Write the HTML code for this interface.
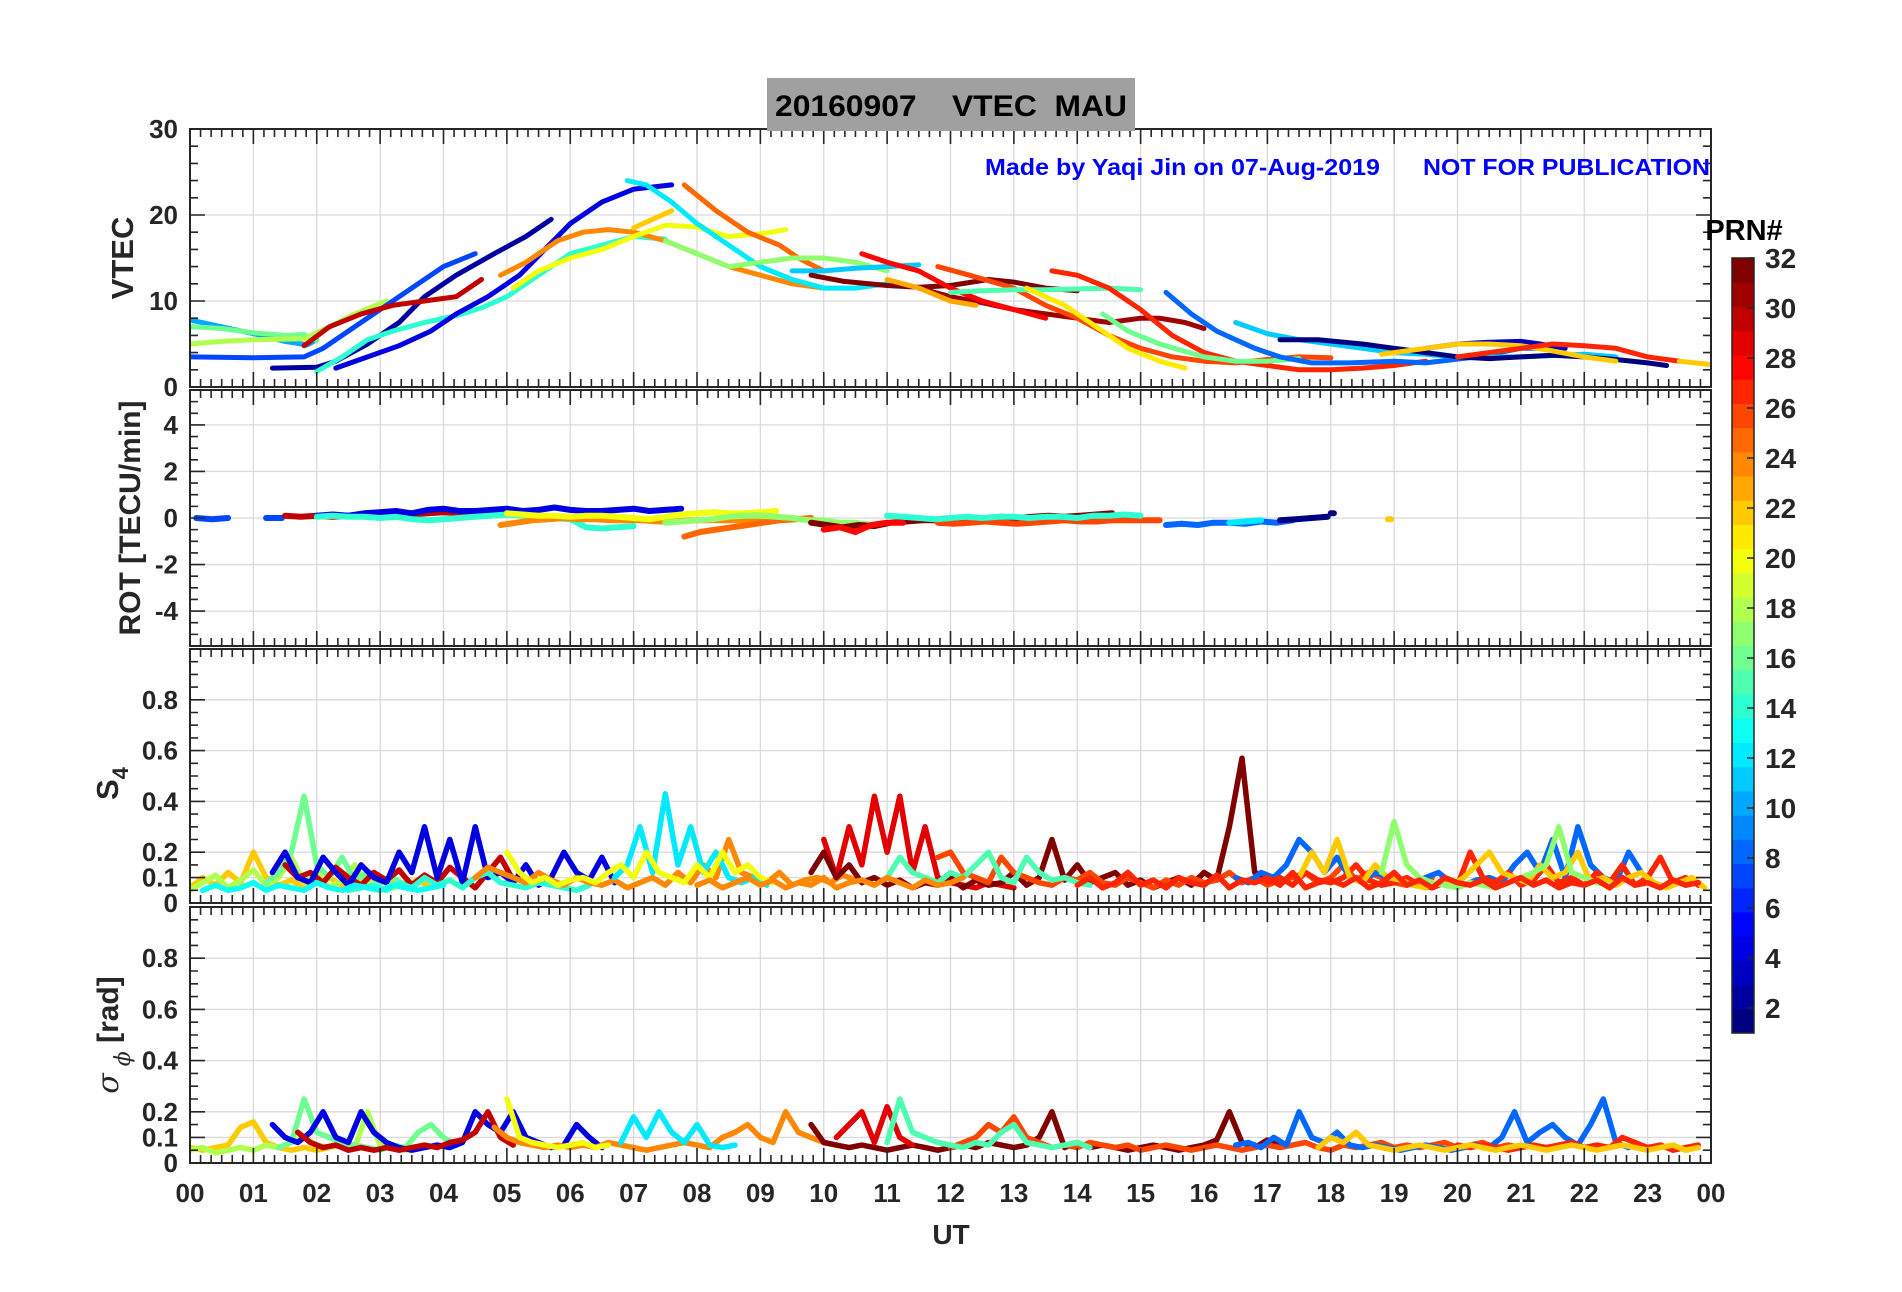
<!DOCTYPE html>
<html><head><meta charset="utf-8"><title>VTEC MAU 20160907</title>
<style>
html,body{margin:0;padding:0;background:#fff;}
svg{display:block;font-family:"Liberation Sans",Arial,sans-serif;}
</style></head>
<body>
<svg id="fig" width="1902" height="1292" viewBox="0 0 1902 1292" xmlns="http://www.w3.org/2000/svg">
<rect x="0" y="0" width="1902" height="1292" fill="#fff"/>
<g id="grids"></g>
<g id="data"></g>
<g id="axes"></g>
<rect x="767" y="78" width="368" height="53" fill="#a0a0a0"/>
<text x="951" y="116" text-anchor="middle" font-size="30" font-weight="bold" fill="#000" textLength="352" lengthAdjust="spacingAndGlyphs" xml:space="preserve">20160907    VTEC  MAU</text>
<text x="985" y="175" font-size="23" font-weight="bold" fill="#0000ff" textLength="395" lengthAdjust="spacingAndGlyphs">Made by Yaqi Jin on 07-Aug-2019</text>
<text x="1423" y="175" font-size="23" font-weight="bold" fill="#0000ff" textLength="287" lengthAdjust="spacingAndGlyphs">NOT FOR PUBLICATION</text>
<text transform="translate(133,258) rotate(-90)" text-anchor="middle" font-size="31" font-weight="bold" fill="#262626">VTEC</text>
<text transform="translate(140,518) rotate(-90)" text-anchor="middle" font-size="30" font-weight="bold" fill="#262626">ROT [TECU/min]</text>
<text transform="translate(118,800) rotate(-90)" font-size="31" font-weight="bold" fill="#262626">S<tspan font-size="22" dy="10">4</tspan></text>
<text transform="translate(118,1035) rotate(-90)" text-anchor="middle" font-size="30" font-weight="bold" fill="#262626" font-family="'DejaVu Serif',serif"><tspan font-style="italic" font-weight="normal">σ</tspan><tspan font-size="22" dy="12" font-style="italic" font-weight="normal"> ϕ</tspan><tspan dy="-12" font-family="Liberation Sans,sans-serif"> [rad]</tspan></text>
<text x="951" y="1244" text-anchor="middle" font-size="28" font-weight="bold" fill="#262626">UT</text>
<text x="1744" y="240" text-anchor="middle" font-size="29" font-weight="bold" fill="#000">PRN#</text>
<g id="cbar"></g>
</svg>
<script>
// ---------------- data ----------------
const hourTicks = ["00","01","02","03","04","05","06","07","08","09","10","11","12","13","14","15","16","17","18","19","20","21","22","23","00"];
const vtecTickLabels = [0,10,20,30];
const rotTickLabels = [-4,-2,0,2,4];
const scintTickLabels = [0,0.1,0.2,0.4,0.6,0.8];
const cbarTickLabels = [2,4,6,8,10,12,14,16,18,20,22,24,26,28,30,32];

const vtecPrn = [10,16,18,7,2,30,14,4,24,20,12,22,25,17,11,32,31,28,26,15,23,21,27,16,8,11,1,3,22,27,22];
const vtecTracks = [
 [[0,7.8],[0.5,7],[1,6.2],[1.5,5.3],[1.85,4.9],[2.0,5.5]],
 [[0,7],[0.5,6.8],[1,6.3],[1.5,6],[1.8,6.1],[2,5.4]],
 [[0,5],[0.5,5.3],[1,5.5],[1.8,5.6],[2.2,7],[2.6,8.5],[3.1,10]],
 [[0,3.5],[1,3.4],[1.8,3.5],[2.1,4.5],[2.5,6.5],[3,9],[3.5,11.5],[4,14],[4.5,15.5]],
 [[1.3,2.2],[2.0,2.3],[2.3,3],[2.8,5],[3.3,7.5],[3.7,10.5],[4.2,13],[4.8,15.5],[5.3,17.5],[5.7,19.5]],
 [[1.8,4.8],[2.2,7],[2.7,8.5],[3.2,9.5],[3.8,10.1],[4.2,10.5],[4.6,12.5]],
 [[2.0,1.8],[2.4,3.5],[2.8,5.5],[3.2,6.5],[3.7,7.5],[4.2,8.3],[4.6,9.2],[5,10.5],[5.5,13],[6,15.5],[6.5,16.5],[7,17.5],[7.5,17.2]],
 [[2.3,2.2],[2.8,3.5],[3.3,4.8],[3.8,6.5],[4.2,8.5],[4.7,10.5],[5.2,13],[5.6,16],[6,19],[6.5,21.5],[7,23],[7.6,23.5]],
 [[4.9,13],[5.3,14.5],[5.8,17],[6.2,18],[6.6,18.3],[7,18],[7.5,17],[8,15.5],[8.5,14],[9,13],[9.5,12],[10,11.5]],
 [[5.1,11.5],[5.5,13.5],[6,15],[6.5,16],[7,17.5],[7.5,18.8],[8,18.6],[8.5,17.5],[9,17.8],[9.4,18.3]],
 [[6.9,24],[7.2,23.5],[7.6,21.5],[8,19],[8.5,16.5],[9,14],[9.5,12.5],[10,11.5],[10.5,11.5],[11,12]],
 [[7,18.5],[7.3,19.5],[7.6,20.5]],
 [[7.8,23.5],[8.3,20.5],[8.8,18],[9.3,16.5],[9.6,15],[10,13.5]],
 [[7.5,17],[8,15.5],[8.5,14],[9,14.5],[9.5,15],[10,15],[10.5,14.5],[11,13.5]],
 [[9.5,13.5],[10,13.5],[10.5,13.8],[11,14],[11.5,14.2]],
 [[9.8,13],[10.3,12.3],[11,11.8],[11.5,11.6],[12,11.8],[12.6,12.5],[13,12.2],[13.5,11.5],[14,11.2]],
 [[11.5,11.5],[12,10.5],[12.5,9.8],[13,9],[13.5,8.5],[14,8],[14.5,7.5],[15,8],[15.3,8],[15.7,7.5],[16,6.8]],
 [[10.6,15.5],[11,14.5],[11.5,13.5],[12,11.5],[12.5,10],[13,9],[13.5,8]],
 [[11.8,14],[12.3,13],[13,11.5],[13.5,9.5],[14,8],[14.5,6],[15,4.5],[15.5,3.5],[16,3],[16.5,2.8],[17,3.2],[17.5,3.5],[18,3.4]],
 [[12,11],[12.5,11.2],[13,11.3],[13.5,11.3],[14,11.4],[14.5,11.5],[15,11.3]],
 [[11,12.5],[11.5,11.5],[12,10],[12.4,9.5]],
 [[13.2,11.5],[13.8,9.5],[14.3,7],[14.8,4.5],[15.3,3],[15.7,2.2]],
 [[13.6,13.5],[14,13],[14.5,11.5],[15,9],[15.5,6],[16,4],[16.5,3],[17,2.5],[17.5,2],[18,2],[18.5,2.2],[19,2.5],[19.5,3]],
 [[14.4,8.5],[14.8,6.5],[15.3,5],[16,3.5],[16.5,3],[17,3],[17.5,3.3]],
 [[15.4,11],[15.8,8.5],[16.2,6.5],[16.8,4.5],[17.2,3.5],[17.7,2.8],[18.3,2.8],[19,3],[19.5,2.8],[20.3,3.5],[21,4.5],[21.5,4.5]],
 [[16.5,7.5],[17,6.2],[17.5,5.5],[18,5],[18.5,4.5],[19,4],[19.5,3.8],[20,3.5],[21,3.5],[22,3.8],[22.5,3.5]],
 [[17.2,5.5],[17.8,5.5],[18.5,5],[19,4.5],[19.5,4],[20,3.5],[20.5,3.3],[21,3.5],[21.5,3.7],[22,3.5],[22.5,3.2],[23,2.8],[23.3,2.5]],
 [[19.5,4.5],[20,5],[20.5,5.2],[21,5.3],[21.3,5],[21.7,4.5]],
 [[18.8,3.8],[19.5,4.5],[20,5],[20.5,5],[21,4.8],[21.5,4.2],[22,3.5],[22.5,3.0]],
 [[20,3.5],[20.5,4],[21,4.5],[21.5,5],[22,4.8],[22.5,4.5],[23,3.5],[23.5,3]],
 [[23.5,3],[24,2.6]]
];

const rotStep = 0.25;
const rotPrn = [7,7,30,4,14,24,25,20,17,32,28,26,14,8,12,1,1,22];
const rotStart = [0.1,1.2,1.5,2,2,4.9,7.8,5,7.5,9.8,10,11.8,11,15.4,16.4,17.2,18,18.9];
const rotValues = [
 [0,-0.05,0],
 [0,0],
 [0.1,0.05,0.1,0.05,0.1,0.15,0.1,0.2,0.15,0.2,0.25,0.2,0.3],
 [0.1,0.15,0.1,0.2,0.25,0.3,0.2,0.35,0.4,0.3,0.3,0.35,0.4,0.3,0.35,0.45,0.35,0.3,0.3,0.35,0.4,0.3,0.35,0.4],
 [0.05,0.1,0.05,0.05,0,0.05,-0.05,-0.1,-0.05,0,0.05,0.1,0.15,0.1,0.05,0,-0.05,-0.4,-0.45,-0.4,-0.35],
 [-0.3,-0.2,-0.1,-0.05,0,-0.05,-0.05,-0.1,-0.1,-0.1,-0.15,-0.15,-0.1,-0.1,-0.1,-0.1,-0.05,-0.05,0],
 [-0.8,-0.6,-0.5,-0.4,-0.3,-0.2,-0.1,-0.05,0],
 [0.2,0.15,0.1,0.1,0.05,0.1,0.1,0.05,0,-0.05,0.05,0.15,0.2,0.25,0.2,0.2,0.25,0.3],
 [-0.2,-0.15,-0.1,-0.05,0.05,0.1,0.1,0.05,0,-0.1,-0.1,-0.2,-0.2,-0.3,-0.2],
 [-0.2,-0.3,-0.4,-0.3,-0.35,-0.2,-0.15,-0.1,-0.1,-0.05,-0.05,0,0.05,0,0.05,0.1,0.05,0.1,0.15,0.2],
 [-0.5,-0.4,-0.6,-0.3,-0.2,-0.2],
 [-0.2,-0.25,-0.2,-0.15,-0.2,-0.25,-0.2,-0.15,-0.1,-0.15,-0.15,-0.1,-0.1,-0.1,-0.1],
 [0.1,0.05,0,-0.05,0,0.05,0,0.05,0.05,0,0.05,0.05,0,0.1,0.1,0.15,0.1],
 [-0.3,-0.25,-0.3,-0.2,-0.2,-0.25,-0.15,-0.2,-0.1],
 [-0.2,-0.15,-0.1],
 [-0.1,-0.05,0,0.05],
 [0.2],
 [-0.05]
];

const scintStep = 0.2;
const s4Prn = [22,18,16,30,4,14,24,12,20,29,32,26,15,8,27,22,17,24,27,13];
const s4Start = [0,0,1.2,1.5,1.3,2.5,4.5,6.7,5,10,9.8,11.8,11,16.5,17,17.5,18.8,8,14,0.2];
const s4Values = [
 [0.06,0.1,0.07,0.12,0.08,0.2,0.1,0.07,0.09,0.06,0.08,0.1,0.07,0.09,0.06,0.1,0.08,0.07,0.09,0.06],
 [0.05,0.08,0.11,0.06,0.09,0.13,0.07,0.1,0.18,0.08,0.12,0.06,0.09,0.15,0.07,0.1,0.06,0.08],
 [0.08,0.12,0.2,0.42,0.15,0.1,0.18,0.09,0.12,0.08,0.1,0.07],
 [0.15,0.1,0.12,0.08,0.14,0.1,0.07,0.12,0.09,0.13,0.07,0.11,0.08,0.14,0.1,0.06,0.12,0.18,0.09],
 [0.12,0.2,0.1,0.08,0.18,0.12,0.07,0.15,0.1,0.08,0.2,0.12,0.3,0.1,0.25,0.08,0.3,0.1,0.12,0.08,0.15,0.07,0.1,0.2,0.12,0.09,0.18,0.08],
 [0.05,0.06,0.07,0.05,0.08,0.06,0.1,0.07,0.09,0.06,0.1,0.12,0.08,0.07,0.06,0.08,0.07,0.06,0.05,0.07],
 [0.1,0.14,0.12,0.1,0.08,0.12,0.09,0.07,0.1,0.08,0.07,0.09,0.06,0.08,0.1,0.07,0.12,0.08,0.15,0.1,0.25,0.12,0.1,0.08,0.12,0.07,0.09,0.1,0.08,0.11,0.09],
 [0.1,0.15,0.3,0.12,0.43,0.15,0.3,0.12,0.2,0.1,0.08,0.1,0.07],
 [0.2,0.12,0.08,0.1,0.07,0.09,0.1,0.08,0.12,0.15,0.1,0.2,0.12,0.1,0.08,0.15,0.1,0.2,0.12,0.15,0.1,0.08],
 [0.25,0.1,0.3,0.15,0.42,0.2,0.42,0.12,0.3,0.1,0.08,0.07,0.06,0.08,0.07,0.06],
 [0.12,0.2,0.1,0.15,0.08,0.1,0.07,0.09,0.06,0.08,0.07,0.1,0.06,0.09,0.07,0.08,0.12,0.07,0.1,0.25,0.09,0.15,0.08,0.1,0.12,0.07,0.09,0.06,0.08,0.1,0.07,0.12,0.09,0.3,0.57,0.12,0.1,0.08],
 [0.18,0.2,0.12,0.1,0.08,0.18,0.12,0.1,0.08,0.07,0.1,0.09,0.12,0.08,0.07,0.1,0.08,0.06,0.09,0.07,0.1,0.08,0.09,0.12,0.08,0.1,0.07,0.09,0.1,0.12,0.08,0.1,0.15,0.09,0.12,0.1,0.08,0.07,0.09,0.1],
 [0.1,0.18,0.12,0.1,0.08,0.12,0.1,0.15,0.2,0.1,0.08,0.18,0.12,0.09,0.1,0.08,0.07],
 [0.1,0.08,0.12,0.1,0.15,0.25,0.2,0.12,0.18,0.1,0.08,0.12,0.1,0.09,0.08,0.1,0.12,0.08,0.07,0.09,0.1,0.08,0.15,0.2,0.12,0.25,0.1,0.3,0.15,0.1,0.08,0.2,0.12],
 [0.08,0.1,0.07,0.12,0.09,0.08,0.1,0.15,0.09,0.07,0.08,0.1,0.07,0.06,0.08,0.07,0.2,0.1,0.08,0.12,0.07,0.09,0.15,0.08,0.1,0.07,0.12,0.08,0.15,0.07,0.1,0.18,0.08,0.1,0.07],
 [0.1,0.2,0.12,0.25,0.1,0.08,0.15,0.1,0.09,0.07,0.06,0.08,0.07,0.1,0.15,0.2,0.12,0.1,0.08,0.15,0.1,0.12,0.2,0.08,0.1,0.07,0.1,0.12,0.08,0.06,0.08,0.1,0.06],
 [0.12,0.32,0.15,0.1,0.08,0.07,0.06,0.08,0.07,0.06,0.08,0.1,0.12,0.15,0.3,0.12,0.1,0.08,0.07],
 [0.07,0.09,0.06,0.08,0.1,0.07,0.09,0.06,0.08,0.07,0.1,0.06,0.08,0.09,0.07,0.1,0.08,0.06,0.09,0.07,0.08,0.1],
 [0.07,0.1,0.06,0.08,0.12,0.07,0.09,0.06,0.1,0.08,0.07,0.11,0.06,0.09,0.08,0.1,0.07,0.12,0.06,0.08,0.09,0.07,0.1,0.06,0.08,0.12,0.07,0.09,0.06,0.1,0.08,0.07,0.09,0.06,0.08,0.1,0.07,0.09,0.06,0.08,0.07,0.09,0.06,0.1,0.07,0.08,0.06,0.09,0.07,0.08],
 [0.05,0.07,0.05,0.06,0.08,0.05,0.07,0.06,0.05,0.08,0.06,0.05,0.07,0.06,0.05,0.07,0.06,0.05,0.06,0.07]
];

const sigPrn = [22,18,16,4,30,24,12,20,32,29,26,15,8,27,22];
const sigStart = [0,0,1.4,1.3,1.7,4.8,6.8,5,9.8,10.2,12,11,16.5,20,17.8];
const sigValues = [
 [0.06,0.05,0.06,0.07,0.14,0.16,0.08,0.06,0.05,0.06,0.05,0.06,0.07,0.06],
 [0.05,0.06,0.04,0.05,0.06,0.05,0.07,0.06,0.08,0.1,0.07,0.06,0.08,0.06,0.2,0.07,0.06,0.05],
 [0.06,0.08,0.25,0.12,0.1,0.08,0.07,0.06,0.05,0.07,0.06,0.12,0.15,0.1,0.07],
 [0.15,0.1,0.08,0.12,0.2,0.1,0.08,0.2,0.12,0.08,0.06,0.05,0.06,0.07,0.06,0.08,0.2,0.15,0.12,0.2,0.1,0.08,0.06,0.07,0.15,0.1,0.06],
 [0.12,0.08,0.06,0.07,0.05,0.06,0.05,0.06,0.05,0.06,0.07,0.06,0.08,0.09,0.12,0.2,0.1,0.07],
 [0.14,0.1,0.08,0.07,0.06,0.07,0.06,0.07,0.06,0.08,0.07,0.06,0.05,0.06,0.07,0.08,0.07,0.06,0.1,0.12,0.15,0.1,0.08,0.2,0.12,0.1,0.08,0.07],
 [0.08,0.18,0.1,0.2,0.12,0.08,0.15,0.07,0.06,0.07],
 [0.25,0.1,0.08,0.07,0.06,0.07,0.08,0.06,0.07],
 [0.15,0.08,0.07,0.06,0.07,0.06,0.05,0.06,0.07,0.06,0.05,0.06,0.07,0.06,0.08,0.07,0.06,0.07,0.1,0.2,0.06,0.08,0.06,0.07,0.06,0.05,0.06,0.07,0.06,0.05,0.06,0.07,0.09,0.2,0.08,0.06,0.09,0.07],
 [0.1,0.15,0.2,0.08,0.22,0.1,0.07],
 [0.06,0.08,0.1,0.15,0.12,0.18,0.1,0.08,0.06,0.07,0.06,0.08,0.07,0.06,0.07,0.05,0.06,0.07,0.06,0.05,0.06,0.07,0.06,0.05,0.06,0.07,0.06,0.07,0.08,0.06,0.05,0.07,0.06,0.07,0.08,0.06,0.07,0.06,0.07,0.08,0.06,0.07,0.08,0.06,0.07,0.06],
 [0.08,0.25,0.12,0.1,0.08,0.07,0.06,0.08,0.07,0.12,0.15,0.08,0.07,0.06,0.07,0.08,0.06],
 [0.07,0.08,0.06,0.1,0.07,0.2,0.1,0.08,0.12,0.07,0.06,0.07,0.06,0.05,0.06,0.07,0.06,0.05,0.06,0.07,0.06,0.1,0.2,0.08,0.12,0.15,0.1,0.07,0.15,0.25,0.08,0.06],
 [0.07,0.06,0.07,0.06,0.05,0.06,0.07,0.06,0.07,0.08,0.06,0.07,0.06,0.1,0.08,0.06,0.07,0.05,0.06,0.07],
 [0.06,0.1,0.08,0.12,0.07,0.06,0.05,0.06,0.07,0.06,0.05,0.06,0.07,0.06,0.05,0.06,0.07,0.06,0.05,0.06,0.07,0.06,0.05,0.06,0.07,0.06,0.05,0.06,0.07,0.05,0.06]
];

// ---------------- rendering ----------------
const NS = "http://www.w3.org/2000/svg";
const L = 190, R = 1711;
const panels = [
 {name:"vtec", top:129, bot:387, min:0, max:30, major:[0,10,20,30], minorStep:2, labels:vtecTickLabels},
 {name:"rot", top:390, bot:646, min:-5.5, max:5.5, major:[-4,-2,0,2,4], minorStep:0.5, labels:rotTickLabels},
 {name:"s4", top:649, bot:903, min:0, max:1, major:[0,0.1,0.2,0.4,0.6,0.8], minorStep:0.05, labels:scintTickLabels},
 {name:"sigma", top:907, bot:1163, min:0, max:1, major:[0,0.1,0.2,0.4,0.6,0.8], minorStep:0.05, labels:scintTickLabels}
];
function xs(h){ return L + (R-L)*h/24; }
function ys(p,v){ return p.bot - (p.bot-p.top)*(v-p.min)/(p.max-p.min); }
function jet(prn){
  const t=(prn-1)/31;
  const c=v=>Math.round(255*Math.max(0,Math.min(1,v)));
  return "rgb("+c(1.5-Math.abs(4*t-3))+","+c(1.5-Math.abs(4*t-2))+","+c(1.5-Math.abs(4*t-1))+")";
}
function mk(tag, attrs, parent){
  const e=document.createElementNS(NS,tag);
  for(const k in attrs) e.setAttribute(k,attrs[k]);
  parent.appendChild(e); return e;
}
const gG=document.getElementById("grids"), gD=document.getElementById("data"), gA=document.getElementById("axes");

panels.forEach((p,pi)=>{
  const cp=mk("clipPath",{id:"clip"+pi},gD);
  mk("rect",{x:L,y:p.top,width:R-L,height:p.bot-p.top},cp);
  for(let h=1;h<24;h++){
    const g=mk("line",{x1:xs(h),x2:xs(h),y1:p.top,y2:p.bot,stroke:"#dadada","stroke-width":1.3},gG);
    
    
  }
  p.major.forEach(v=>{
    const g=mk("line",{x1:L,x2:R,y1:ys(p,v),y2:ys(p,v),stroke:"#dadada","stroke-width":1.3},gG);
    
    
  });
  const fr=mk("rect",{x:L,y:p.top,width:R-L,height:p.bot-p.top,fill:"none",stroke:"#262626","stroke-width":2},gA);
  
  
  let d="";
  for(let m=0;m<=144;m++){
    const x=xs(m/6), len=(m%6===0)?15:8;
    d+="M"+x+" "+p.top+"v"+len+"M"+x+" "+p.bot+"v"+(-len);
  }
  const nMin=Math.round((p.max-p.min)/p.minorStep);
  for(let k=0;k<=nMin;k++){
    const v=p.min+k*p.minorStep, y=ys(p,v);
    if(y<p.top+2||y>p.bot-2) continue;
    d+="M"+L+" "+y+"h8M"+R+" "+y+"h-8";
  }
  p.major.forEach(v=>{const y=ys(p,v); d+="M"+L+" "+y+"h15M"+R+" "+y+"h-15";});
  const tk=mk("path",{d:d,stroke:"#262626","stroke-width":1.6,fill:"none"},gA);
  
  
  p.labels.forEach(v=>{
    const t=mk("text",{x:178,y:ys(p,v)+9,"text-anchor":"end","font-size":26,"font-weight":"bold",fill:"#262626"},gA);
    t.textContent=String(v);
    
    
  });
});
hourTicks.forEach((lab,i)=>{
  const t=mk("text",{x:xs(i),y:1202,"text-anchor":"middle","font-size":26,"font-weight":"bold",fill:"#262626"},gA);
  t.textContent=lab;
  
  
});

function drawLine(pi, pts, prn, w, name){
  const p=panels[pi];
  const d=pts.map((q,i)=>(i?"L":"M")+xs(q[0]).toFixed(1)+" "+ys(p,q[1]).toFixed(1)).join("");
  const e=mk("path",{d:d,fill:"none",stroke:jet(prn),"stroke-width":w,"stroke-linejoin":"round","stroke-linecap":"round","clip-path":"url(#clip"+pi+")"},gD);
  
  
}
vtecTracks.forEach((tr,i)=>drawLine(0,tr,vtecPrn[i],5,'vtec-track-prn'+vtecPrn[i]));
rotValues.forEach((vals,i)=>{
  const pts=vals.map((v,k)=>[rotStart[i]+k*rotStep,v]);
  if(pts.length===1) pts.push([pts[0][0]+0.05,pts[0][1]]);
  drawLine(1,pts,rotPrn[i],6,'rot-track-prn'+rotPrn[i]);
});
s4Values.forEach((vals,i)=>{
  drawLine(2,vals.map((v,k)=>[s4Start[i]+k*scintStep,v]),s4Prn[i],5.5,'s4-track-prn'+s4Prn[i]);
});
sigValues.forEach((vals,i)=>{
  drawLine(3,vals.map((v,k)=>[sigStart[i]+k*scintStep,v]),sigPrn[i],5.5,'sigma-track-prn'+sigPrn[i]);
});

const cb=document.getElementById("cbar");
const cbTop=258, cbBot=1033, cbX=1732, cbW=22;
const cbY=v=>cbBot-(cbBot-cbTop)*(v-1)/31;
for(let prn=1;prn<=32;prn++){
  const y0=cbBot-(cbBot-cbTop)*prn/32, h=(cbBot-cbTop)/32;
  const r=mk("rect",{x:cbX,y:y0,width:cbW,height:h+0.6,fill:jet(prn)},cb);
  
  
}
const cf=mk("rect",{x:cbX,y:cbTop,width:cbW,height:cbBot-cbTop,fill:"none",stroke:"#262626","stroke-width":1.5},cb);


cbarTickLabels.forEach(v=>{
  const y=cbY(v);
  const l=mk("line",{x1:cbX+cbW-7,x2:cbX+cbW,y1:y,y2:y,stroke:"#262626","stroke-width":1.5},cb);
  
  
  const t=mk("text",{x:1765,y:y+10,"font-size":28,"font-weight":"bold",fill:"#262626"},cb);
  t.textContent=String(v);
  
  
});
</script>
</body></html>
